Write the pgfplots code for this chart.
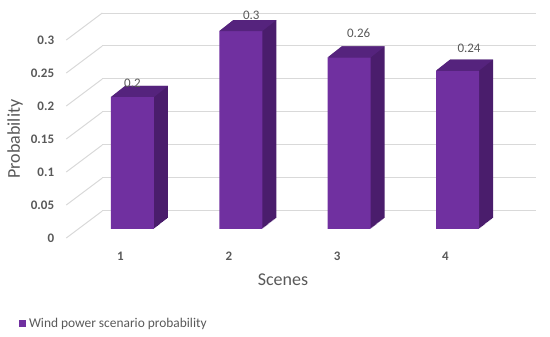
\documentclass[border=0pt]{standalone}
\usepackage{pgfplots}
\pgfplotsset{compat=1.18}
\usepackage{pgfplotstable}
\usepackage{fontspec}
\setmainfont{Carlito}
\definecolor{front}{HTML}{7030A0}
\definecolor{topc}{HTML}{55237D}
\definecolor{sidec}{HTML}{4A1D6C}
\definecolor{gridc}{HTML}{D9D9D9}
\definecolor{txt}{HTML}{595959}
\pgfdeclareplotmark{topface}{%
  \pgfpathmoveto{\pgfpoint{-21.5pt}{0pt}}%
  \pgfpathlineto{\pgfpoint{21.5pt}{0pt}}%
  \pgfpathlineto{\pgfpoint{35.5pt}{11pt}}%
  \pgfpathlineto{\pgfpoint{-7.5pt}{11pt}}%
  \pgfpathclose
  \pgfusepath{fill}}
\pgfplotstableread{
x y dx dy
1 0.20 0 14
2 0.30 10.5 16
3 0.26 9.5 24
4 0.24 11.5 22
}\bardata
\begin{document}
\begin{tikzpicture}
\useasboundingbox (0,0) rectangle (550pt,337pt);
\begin{axis}[
  at={(78.3pt,108pt)}, anchor=south west,
  scale only axis, width=433.4pt, height=198pt,
  xmin=0.5, xmax=4.5, ymin=0, ymax=0.3,
  clip=false,
  axis line style={draw=none},
  major tick length=0pt,
  xtick={1,2,3,4},
  ytick={0,0.05,0.1,0.15,0.2,0.25,0.3},
  /pgf/number format/assume math mode=true,
  yticklabel style={/pgf/number format/fixed, /pgf/number format/precision=2,
    font=\fontsize{13}{15}\selectfont\bfseries, text=txt, anchor=east, inner sep=0pt,
    xshift=-24pt, yshift=-9pt},
  xticklabel style={font=\fontsize{13}{15}\selectfont\bfseries, text=txt, anchor=center,
    inner sep=0pt, xshift=-12pt, yshift=-27pt},
  xlabel={Scenes}, ylabel={Probability},
  xlabel style={at={(axis description cs:0.4723,-0.2576)}, anchor=center,
    font=\fontsize{18}{21}\selectfont, text=txt},
  ylabel style={at={(axis description cs:-0.146,0.4545)}, anchor=center,
    font=\fontsize{18}{21}\selectfont, text=txt},
  legend style={at={(axis description cs:-0.1368,-0.4798)}, anchor=west, draw=none,
    fill=none, inner sep=0pt, outer sep=0pt, font=\fontsize{13.4}{16}\selectfont,
    text=txt, nodes={inner sep=0pt}},
  legend cell align=left,
]
\pgfplotsinvokeforeach{0,0.05,0.1,0.15,0.2,0.25,0.3}{
  \draw[gridc, line width=1pt] ([xshift=24pt,yshift=18pt]axis cs:0.5,#1) -- ([xshift=24pt,yshift=18pt]axis cs:4.5,#1);
  \draw[gridc, line width=1pt] ([xshift=-12pt,yshift=-9pt]axis cs:0.5,#1) -- ([xshift=24pt,yshift=18pt]axis cs:0.5,#1);
}
\pgfplotsinvokeforeach{14,13,...,1}{
  \addplot[ybar, bar width=43pt, bar shift=0pt, fill=sidec, draw=none, forget plot,
    xshift=#1*1pt, yshift=#1*0.7857pt] table[x=x,y=y]{\bardata};
}
\addplot[only marks, mark=topface, mark options={fill=topc, draw=none}, forget plot]
  table[x=x,y=y]{\bardata};
\addplot[ybar, bar width=43pt, bar shift=0pt, fill=front, draw=none,
  legend image code/.code={\fill[front] (0pt,-3.5pt) rectangle (7pt,3.5pt); \path (10pt,0pt);},
  nodes near coords,
  visualization depends on={\thisrow{dx}\as\dx},
  visualization depends on={\thisrow{dy}\as\dy},
  every node near coord/.append style={anchor=center, xshift=\dx pt, yshift=\dy pt,
    font=\fontsize{13}{15}\selectfont, text=txt, inner sep=0pt}]
  table[x=x,y=y]{\bardata};
\addlegendentry{Wind power scenario probability}
\end{axis}
\end{tikzpicture}
\end{document}
